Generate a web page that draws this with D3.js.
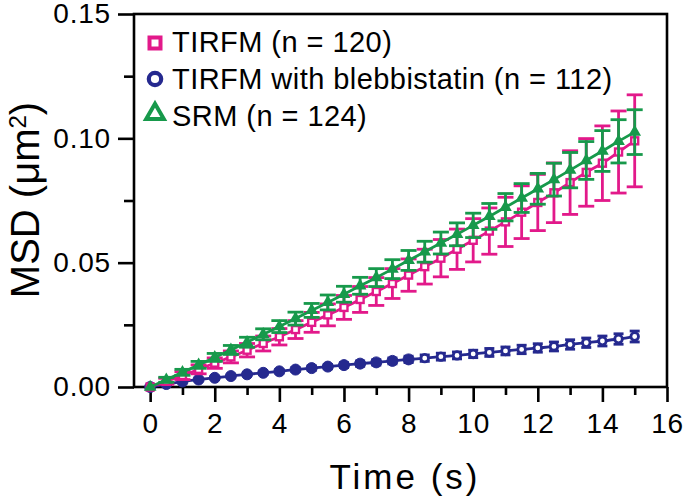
<!DOCTYPE html>
<html><head><meta charset="utf-8">
<script src="https://cdn.jsdelivr.net/npm/d3@7"></script>
<style>
html,body{margin:0;padding:0;background:#fff;}
svg text{font-family:"Liberation Sans",Arial,Helvetica,sans-serif;fill:#000;}
</style></head>
<body><svg id="chart" width="683" height="504"></svg>
<script>
const times = [0,0.5,1,1.5,2,2.5,3,3.5,4,4.5,5,5.5,6,6.5,7,7.5,8,8.5,9,9.5,10,10.5,11,11.5,12,12.5,13,13.5,14,14.5,15];
const tirfmMean = [0,0.0023,0.0046,0.0071,0.0096,0.0121,0.0148,0.0175,0.0202,0.0231,0.0260,0.0290,0.0320,0.0352,0.0384,0.0416,0.0450,0.0484,0.0518,0.0554,0.0590,0.0627,0.0664,0.0703,0.0742,0.0781,0.0822,0.0863,0.0900,0.0945,0.0990];
const tirfmErr = [0,0.0012,0.0016,0.0018,0.0021,0.0024,0.0027,0.0030,0.0033,0.0036,0.0040,0.0044,0.0048,0.0052,0.0056,0.0060,0.0065,0.0070,0.0075,0.0081,0.0087,0.0093,0.0099,0.0106,0.0113,0.0120,0.0128,0.0136,0.0150,0.0165,0.0185];
const blebMean = [0,0.0012,0.0022,0.0030,0.0037,0.0044,0.0051,0.0057,0.0063,0.0070,0.0076,0.0082,0.0088,0.0094,0.0099,0.0105,0.0111,0.0116,0.0122,0.0127,0.0133,0.0139,0.0145,0.0151,0.0157,0.0163,0.0171,0.0178,0.0185,0.0193,0.0203];
const blebErr = [0,0.0002,0.0003,0.0004,0.0005,0.0005,0.0006,0.0007,0.0007,0.0008,0.0009,0.0009,0.0010,0.0011,0.0011,0.0012,0.0013,0.0013,0.0014,0.0014,0.0015,0.0016,0.0016,0.0017,0.0017,0.0018,0.0019,0.0019,0.0020,0.0021,0.0022];
const srmMean = [0,0.0029,0.0059,0.0089,0.0119,0.0149,0.0180,0.0212,0.0243,0.0275,0.0308,0.0340,0.0373,0.0407,0.0440,0.0474,0.0509,0.0544,0.0579,0.0614,0.0650,0.0686,0.0723,0.0760,0.0797,0.0834,0.0872,0.0911,0.0949,0.0988,0.1025];
const srmErr = [0,0.0010,0.0012,0.0014,0.0016,0.0018,0.0020,0.0022,0.0024,0.0026,0.0028,0.0030,0.0032,0.0034,0.0036,0.0038,0.0040,0.0042,0.0044,0.0046,0.0049,0.0052,0.0055,0.0058,0.0062,0.0066,0.0071,0.0076,0.0082,0.0087,0.0090];
const xMajorTicks = [0,2,4,6,8,10,12,14,16];
const xMinorTicks = [1,3,5,7,9,11,13,15];
const yMajorTicks = [0,0.05,0.10,0.15];
const yMinorTicks = [0.025,0.075,0.125];
const legendLabels = ["TIRFM (n = 120)","TIRFM with blebbistatin (n = 112)","SRM (n = 124)"];
const xTitle = "Time (s)";

const colMag = "#e2198a", colBlue = "#25298f", colGreen = "#17994b";

const svg = d3.select("#chart");
const x = d3.scaleLinear().domain([-0.5,16]).range([134,667]);
const y = d3.scaleLinear().domain([0,0.15]).range([387,14]);

// frame
svg.append("rect").attr("x",x(-0.5)).attr("y",y(0.15)).attr("width",x(16)-x(-0.5)).attr("height",y(0)-y(0.15))
  .attr("fill","none").attr("stroke","#000").attr("stroke-width",2.6);

// axes
const gx = svg.append("g").attr("transform",`translate(0,${y(0)})`);
gx.call(d3.axisBottom(x).tickValues(xMajorTicks).tickSize(15).tickPadding(11).tickFormat(d3.format("d")));
const gxm = svg.append("g").attr("transform",`translate(0,${y(0)})`);
gxm.call(d3.axisBottom(x).tickValues(xMinorTicks).tickSize(8).tickFormat(""));
const gy = svg.append("g").attr("transform",`translate(${x(-0.5)},0)`);
gy.call(d3.axisLeft(y).tickValues(yMajorTicks).tickSize(16).tickPadding(7).tickFormat(d3.format(".2f")));
const gym = svg.append("g").attr("transform",`translate(${x(-0.5)},0)`);
gym.call(d3.axisLeft(y).tickValues(yMinorTicks).tickSize(10).tickFormat(""));
[gx,gxm,gy,gym].forEach(g=>{
  g.select(".domain").remove();
  g.selectAll(".tick line").attr("stroke","#000").attr("stroke-width",2.6);
  g.selectAll("text").attr("font-size",28).attr("letter-spacing",0.8).attr("fill","#000").attr("font-family","'Liberation Sans',Arial,sans-serif");
});

function series(mean, err, color, capW){
  const g = svg.append("g");
  const d = times.map((t,i)=>({t, m:mean[i], e:err[i], i}));
  g.append("path").datum(d).attr("fill","none").attr("stroke",color).attr("stroke-width",2.8)
    .attr("d", d3.line().x(p=>x(p.t)).y(p=>y(p.m)).curve(d3.curveMonotoneX));
  const eb = g.selectAll(".eb").data(d.filter(p=>p.e>0)).enter().append("g");
  eb.append("line").attr("x1",p=>x(p.t)).attr("x2",p=>x(p.t)).attr("y1",p=>y(p.m+p.e)).attr("y2",p=>y(p.m-p.e))
    .attr("stroke",color).attr("stroke-width",2.8);
  eb.append("line").attr("x1",p=>x(p.t)-capW/2).attr("x2",p=>x(p.t)+capW/2).attr("y1",p=>y(p.m+p.e)).attr("y2",p=>y(p.m+p.e))
    .attr("stroke",color).attr("stroke-width",2.8);
  eb.append("line").attr("x1",p=>x(p.t)-capW/2).attr("x2",p=>x(p.t)+capW/2).attr("y1",p=>y(p.m-p.e)).attr("y2",p=>y(p.m-p.e))
    .attr("stroke",color).attr("stroke-width",2.8);
  return {g,d};
}

// blue
const sb = series(blebMean, blebErr, colBlue, 10);
sb.g.selectAll(".pt").data(sb.d).enter().append("circle")
  .attr("cx",p=>x(p.t)).attr("cy",p=>y(p.m)).attr("r",p=>p.t<=8?5.5:3.8)
  .attr("fill",p=>p.t<=8?colBlue:"#fff").attr("stroke",colBlue).attr("stroke-width",p=>p.t<=8?1:2.8);

// magenta
const sm = series(tirfmMean, tirfmErr, colMag, 16);
sm.g.selectAll(".pt").data(sm.d).enter().append("rect")
  .attr("x",p=>x(p.t)-3.5).attr("y",p=>y(p.m)-3.5).attr("width",7).attr("height",7)
  .attr("fill","#fff").attr("stroke",colMag).attr("stroke-width",2.4);

// green
const sg = series(srmMean, srmErr, colGreen, 16);
const tri = d3.symbol().type(d3.symbolTriangle).size(70);
sg.g.selectAll(".pt").data(sg.d).enter().append("path")
  .attr("transform",p=>`translate(${x(p.t)},${y(p.m)})`).attr("d",tri).attr("fill",colGreen);

// legend
const lg = svg.append("g");
const rows = [43,79,114];
lg.append("rect").attr("x",149.5).attr("y",rows[0]-5.5).attr("width",11).attr("height",11)
  .attr("fill","#fff").attr("stroke",colMag).attr("stroke-width",4);
lg.append("circle").attr("cx",155).attr("cy",rows[1]).attr("r",6.2).attr("fill","#fff").attr("stroke",colBlue).attr("stroke-width",4.2);
lg.append("path").attr("transform",`translate(155,${rows[2]})`).attr("d",d3.symbol().type(d3.symbolTriangle).size(135))
  .attr("fill","#fff").attr("stroke",colGreen).attr("stroke-width",4);
legendLabels.forEach((s,i)=>{
  lg.append("text").attr("x",172).attr("y",[52,89,126][i]).attr("font-size",29).attr("letter-spacing",0.45).text(s);
});

// axis titles
svg.append("text").attr("x",405).attr("y",489).attr("text-anchor","middle").attr("font-size",35)
  .attr("letter-spacing",3).text(xTitle);
const yt = svg.append("text").attr("transform","translate(39,200) rotate(-90)").attr("text-anchor","middle").attr("font-size",40);
yt.append("tspan").text("MSD (μm");
yt.append("tspan").attr("font-size",24).attr("dy",-13).text("2");
yt.append("tspan").attr("dy",13).text(")");
</script></body></html>
